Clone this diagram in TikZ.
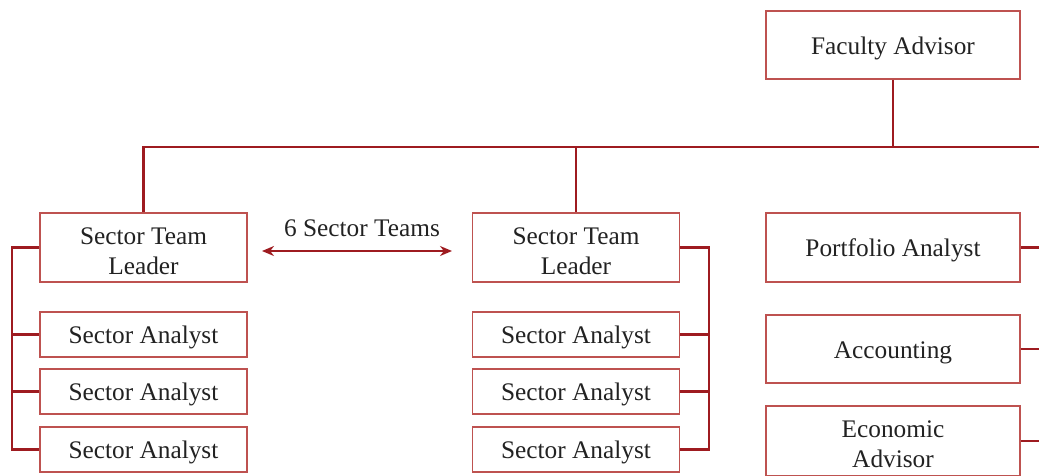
\documentclass[tikz,border=0pt]{standalone}
\usepackage{fontspec}
\setmainfont{Liberation Serif}
\usetikzlibrary{arrows.meta}
\definecolor{boxred}{RGB}{190,82,80}
\definecolor{linered}{RGB}{158,27,32}
\definecolor{inkgray}{RGB}{34,34,34}
\tikzset{
  orgbox/.style={draw=boxred, line width=1.3pt, fill=white, rectangle, inner sep=0pt,
    align=center, text=inkgray, font=\fontsize{18}{21.3}\selectfont,
    execute at begin node={\rule{0pt}{17.3pt}},
    minimum width=5.175cm, minimum height=1.725cm},
  twoline/.style={execute at begin node={}, text height=37.9pt, text depth=0.2pt},
  widebox/.style={orgbox, minimum width=6.35cm},
  smallbox/.style={orgbox, minimum height=1.125cm},
  link/.style={draw=linered, line width=1.45pt},
  tip/.style={{Stealth[length=0.3cm, width=0.25cm]}-{Stealth[length=0.3cm, width=0.25cm]}}
}

\begin{document}
\begin{tikzpicture}[x=0.025cm, y=-0.025cm]
		%%%%% START %%%%%
		\clip (0, 0) rectangle (1039, 475);
		
		% helper points
		\coordinate (busend) at (1039, 147);
		\coordinate (lbar) at (12, 0);
		\coordinate (rbar) at (709, 0);
		\coordinate (redge) at (1039, 0);
		\coordinate (teamsL) at (262, 251);
		\coordinate (teamsR) at (452, 251);
		
		% boxes
		\node[widebox, minimum height=1.7cm] (fa) at (893, 45) {Faculty Advisor};
		
		\node[orgbox, twoline] (stl1) at (143.5, 247.5) {Sector Team\\Leader};
		\node[smallbox] (sa1a) at (143.5, 334.5) {Sector Analyst};
		\node[smallbox] (sa1b) at (143.5, 391.5) {Sector Analyst};
		\node[smallbox] (sa1c) at (143.5, 449.5) {Sector Analyst};
		
		\node[orgbox, twoline] (stl2) at (576, 247.5) {Sector Team\\Leader};
		\node[smallbox] (sa2a) at (576, 334.5) {Sector Analyst};
		\node[smallbox] (sa2b) at (576, 391.5) {Sector Analyst};
		\node[smallbox] (sa2c) at (576, 449.5) {Sector Analyst};
		
		\node[widebox] (pa) at (893, 247.5) {Portfolio Analyst};
		\node[widebox, minimum height=1.7cm] (acc) at (893, 349) {Accounting};
		\node[widebox, twoline, minimum height=1.75cm] (eco) at (893, 441) {Economic\\Advisor};
		
		\node[text=inkgray, font=\fontsize{18}{21.3}\selectfont] (teams) at (362, 228) {6 Sector Teams};
		
		% top bus
		\draw[link] (fa.south) -- (fa.south |- busend);
		\draw[link] (stl1.north) |- (busend);
		\draw[link] (stl2.north) -- (stl2.north |- busend);
		
		% team brackets
		\draw[link] (stl1.west) -| (lbar |- sa1c.west) -- (sa1c.west);
		\foreach \n in {sa1a, sa1b}
			\draw[link] (\n.west) -- (\n.west -| lbar);
		\draw[link] (stl2.east) -| (rbar |- sa2c.east) -- (sa2c.east);
		\foreach \n in {sa2a, sa2b}
			\draw[link] (\n.east) -- (\n.east -| rbar);
		
		% staff stubs
		\foreach \n in {pa, acc, eco}
			\draw[link] (\n.east) -- (\n.east -| redge);
		
		\draw[link, tip] (teamsL) -- (teamsR);
		%%%%% END %%%%%
	\end{tikzpicture}
\end{document}
